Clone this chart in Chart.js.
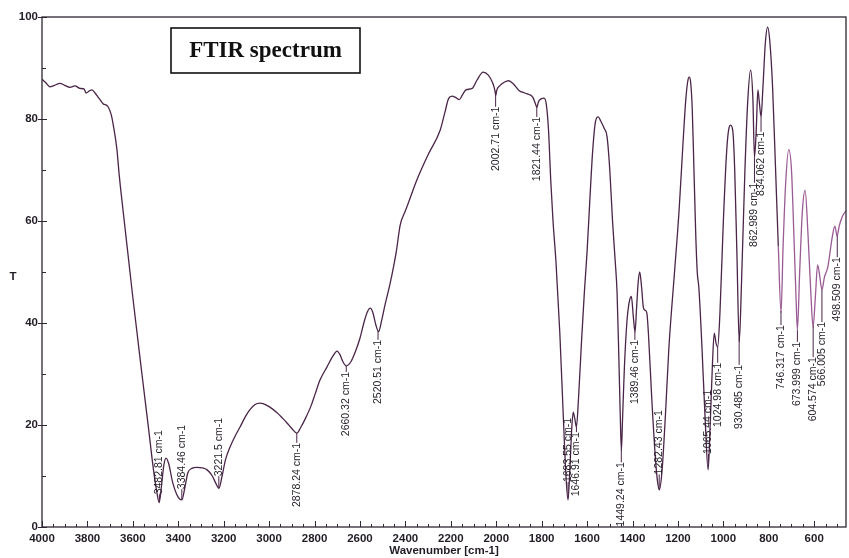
<!DOCTYPE html>
<html>
<head>
<meta charset="utf-8">
<script src="https://cdn.jsdelivr.net/npm/chart.js@4.4.1/dist/chart.umd.min.js"></script>
<style>
  html, body { margin: 0; padding: 0; background: #fff; }
</style>
</head>
<body>
<canvas id="ftir" width="849" height="558"></canvas>
<script>
// espectro (numero de onda en cm-1, transmitancia T)
var numeroOnda = [
  4000, 3985, 3965, 3945, 3921, 3900, 3877, 3855, 3833, 3815, 3806, 3792, 3780, 3765, 3753, 3731, 3709, 3695, 3685, 3670,
  3660, 3648, 3600, 3560, 3530, 3510, 3495, 3484, 3474, 3464, 3454, 3442, 3425, 3400, 3384, 3372, 3358, 3340, 3318, 3295,
  3273, 3250, 3235, 3221, 3208, 3192, 3172, 3150, 3128, 3100, 3062, 3040, 3027, 3000, 2965, 2940, 2921, 2900, 2878, 2860,
  2840, 2815, 2798, 2776, 2745, 2718, 2701, 2688, 2675, 2660, 2640, 2620, 2600, 2580, 2565, 2555, 2543, 2530, 2518, 2505,
  2490, 2467, 2440, 2423, 2400, 2379, 2350, 2300, 2247, 2225, 2210, 2194, 2178, 2163, 2148, 2133, 2106, 2085, 2058, 2035,
  2015, 2006, 2002, 1998, 1985, 1965, 1945, 1925, 1900, 1875, 1855, 1838, 1826, 1821, 1814, 1800, 1790, 1780, 1770, 1760,
  1750, 1737, 1720, 1705, 1693, 1684, 1675, 1668, 1661, 1654, 1647, 1638, 1625, 1612, 1600, 1588, 1575, 1563, 1551, 1540,
  1525, 1512, 1500, 1488, 1476, 1468, 1460, 1454, 1449, 1444, 1436, 1425, 1415, 1405, 1396, 1389, 1382, 1375, 1368, 1360,
  1352, 1345, 1337, 1330, 1315, 1300, 1290, 1282, 1270, 1255, 1240, 1215, 1195, 1178, 1165, 1156, 1150, 1144, 1137, 1130,
  1122, 1115, 1108, 1095, 1080, 1067, 1058, 1048, 1040, 1032, 1025, 1015, 1000, 985, 975, 968, 958, 950, 940, 930,
  920, 905, 892, 880, 870, 863, 855, 848, 841, 834, 826, 815, 805, 795, 783, 770, 758, 746, 737, 725,
  712, 700, 690, 680, 674, 664, 652, 640, 628, 615, 605, 595, 585, 575, 566, 555, 540, 520, 509, 499,
  490, 475, 460
];
var transmitancia = [
  87.8, 87.2, 86.3, 86.6, 87.0, 86.6, 86.2, 86.5, 86.0, 85.9, 85.1, 85.5, 85.7, 85.0, 84.3, 83.0, 82.4, 80.8, 78.5, 74.0,
  69.0, 64.0, 45.0, 30.0, 19.0, 11.5, 7.0, 4.8, 8.0, 12.0, 13.5, 12.4, 8.8, 5.8, 5.3, 7.5, 10.6, 11.5, 11.7, 11.6,
  11.2, 10.0, 8.6, 7.6, 9.8, 13.2, 15.7, 17.8, 19.6, 22.0, 24.0, 24.3, 24.2, 23.6, 22.4, 21.3, 20.4, 19.3, 18.4, 19.6,
  21.3, 23.8, 26.0, 28.8, 31.4, 33.6, 34.5, 33.8, 32.4, 31.6, 32.4, 34.4, 37.0, 40.5, 42.4, 42.9, 42.0, 39.6, 38.3, 40.4,
  43.5, 47.8, 54.0, 59.2, 62.0, 64.5, 68.0, 73.0, 77.8, 81.5, 84.0, 84.5, 84.2, 83.8, 84.8, 85.7, 86.0, 87.6, 89.2, 88.6,
  87.0, 85.6, 84.6, 85.6, 86.5, 87.2, 87.5, 86.9, 85.6, 85.1, 84.8, 84.2, 82.8, 82.3, 83.4, 84.0, 84.1, 83.0, 78.0, 68.0,
  60.0, 52.0, 38.0, 22.0, 10.0, 5.3, 12.0, 19.0, 22.5, 21.2, 19.6, 25.0, 36.0, 46.0, 54.0, 64.0, 74.0, 79.5, 80.4, 79.6,
  78.2, 76.5, 70.0, 60.0, 52.0, 46.0, 33.0, 22.0, 15.0, 21.0, 31.0, 40.0, 44.0, 45.2, 41.0, 38.2, 43.0, 48.0, 50.0, 47.0,
  43.0, 42.5, 42.0, 38.0, 25.0, 14.0, 9.0, 7.3, 11.0, 22.0, 35.0, 50.0, 62.0, 75.0, 84.0, 87.6, 88.2, 87.2, 82.0, 71.0,
  58.0, 50.0, 47.0, 36.0, 21.0, 11.2, 20.0, 32.0, 38.0, 36.0, 35.3, 42.0, 60.0, 74.0, 78.3, 78.8, 77.5, 70.0, 53.0, 36.3,
  48.0, 70.0, 84.0, 89.6, 84.0, 72.5, 78.0, 85.7, 83.0, 80.4, 86.0, 95.0, 98.0, 95.0, 86.0, 70.0, 55.0, 42.0, 55.0, 68.0,
  74.0, 70.0, 58.0, 45.0, 38.6, 50.0, 62.0, 66.0, 58.0, 46.0, 39.2, 45.0, 51.4, 49.0, 46.5, 49.0, 51.0, 57.0, 59.0, 57.0,
  59.0, 61.0, 62.0
];

// picos marcados y altura (T) donde termina cada etiqueta
var picosOnda = [3482.81, 3384.46, 3221.5, 2878.24, 2660.32, 2520.51, 2002.71, 1821.44, 1683.55, 1646.91, 1449.24, 1389.46,
  1282.43, 1065.44, 1024.98, 930.485, 862.989, 834.062, 746.317, 673.999, 604.574, 566.005, 498.509];
var picosTexto = ["3482.81 cm-1", "3384.46 cm-1", "3221.5 cm-1", "2878.24 cm-1", "2660.32 cm-1", "2520.51 cm-1",
  "2002.71 cm-1", "1821.44 cm-1", "1683.55 cm-1", "1646.91 cm-1", "1449.24 cm-1", "1389.46 cm-1", "1282.43 cm-1",
  "1065.44 cm-1", "1024.98 cm-1", "930.485 cm-1", "862.989 cm-1", "834.062 cm-1", "746.317 cm-1", "673.999 cm-1",
  "604.574 cm-1", "566.005 cm-1", "498.509 cm-1"];
var picosTopeT = [19.0, 20.0, 21.4, 16.5, 30.4, 36.7, 82.4, 80.4, 21.4, 18.6, 12.7, 36.7,
  22.9, 26.9, 32.2, 31.8, 67.5, 77.5, 39.6, 36.3, 33.3, 40.2, 52.9];

var ticksX = [4000, 3800, 3600, 3400, 3200, 3000, 2800, 2600, 2400, 2200, 2000, 1800, 1600, 1400, 1200, 1000, 800, 600];
var ticksY = [0, 20, 40, 60, 80, 100];

var colorLinea = "#4a2548";
var colorTexto = "#231c26";

// valor de T en un numero de onda (interpolacion lineal entre puntos leidos)
function valorT(w) {
  for (var i = 0; i < numeroOnda.length - 1; i++) {
    if (w <= numeroOnda[i] && w >= numeroOnda[i + 1]) {
      var f = (numeroOnda[i] - w) / (numeroOnda[i] - numeroOnda[i + 1]);
      return transmitancia[i] + f * (transmitancia[i + 1] - transmitancia[i]);
    }
  }
  return transmitancia[transmitancia.length - 1];
}

var puntos = [];
for (var i = 0; i < numeroOnda.length; i++) {
  puntos.push({ x: numeroOnda[i], y: transmitancia[i] });
}

// marco, marcas de los ejes, etiquetas de picos y recuadro del titulo
var extras = {
  id: "extras",
  afterDatasetsDraw: function (chart) {
    var ctx = chart.ctx;
    var a = chart.chartArea;
    var xs = chart.scales.x;
    var ys = chart.scales.y;
    ctx.save();

    ctx.strokeStyle = "#2e2632";
    ctx.lineWidth = 1.3;
    ctx.strokeRect(a.left, a.top, a.right - a.left, a.bottom - a.top);

    ctx.lineWidth = 1;
    ctx.beginPath();
    for (var w = 4000; w >= 500; w -= 50) {
      var px = Math.round(xs.getPixelForValue(w)) + 0.5;
      var largo = (w % 200 === 0) ? 6 : 3;
      ctx.moveTo(px, a.bottom);
      ctx.lineTo(px, a.bottom - largo);
    }
    for (var t = 0; t <= 100; t += 10) {
      var py = Math.round(ys.getPixelForValue(t)) + 0.5;
      if (t % 20 === 0) {
        ctx.moveTo(a.left - 4, py);
        ctx.lineTo(a.left + 5, py);
      } else {
        ctx.moveTo(a.left, py);
        ctx.lineTo(a.left + 4, py);
      }
    }
    ctx.stroke();

    // etiquetas de picos
    ctx.font = "10.5px 'Liberation Sans', Arial, sans-serif";
    ctx.fillStyle = colorTexto;
    ctx.strokeStyle = colorLinea;
    for (var k = 0; k < picosOnda.length; k++) {
      var x = xs.getPixelForValue(picosOnda[k]);
      var tope = ys.getPixelForValue(picosTopeT[k]);
      var largoTxt = ctx.measureText(picosTexto[k]).width;
      var fondo = tope + largoTxt;
      var valle = ys.getPixelForValue(valorT(picosOnda[k]));
      ctx.beginPath();
      if (valle < tope) {
        ctx.moveTo(x, valle);
        ctx.lineTo(x, tope);
      } else if (valle > fondo) {
        ctx.moveTo(x, fondo);
        ctx.lineTo(x, valle);
      }
      ctx.stroke();
      ctx.save();
      ctx.translate(x, tope);
      ctx.rotate(-Math.PI / 2);
      ctx.textAlign = "right";
      ctx.textBaseline = "middle";
      ctx.fillText(picosTexto[k], 0, 0);
      ctx.restore();
    }

    // recuadro "FTIR spectrum"
    var bx = a.left + 129, by = a.top + 11, bw = 189, bh = 45;
    ctx.strokeStyle = "#111";
    ctx.lineWidth = 1.6;
    ctx.strokeRect(bx, by, bw, bh);
    ctx.fillStyle = "#111";
    ctx.font = "bold 23px 'Liberation Serif', 'Times New Roman', serif";
    ctx.textAlign = "center";
    ctx.textBaseline = "middle";
    ctx.fillText("FTIR spectrum", bx + bw / 2, by + bh / 2 + 1);

    // titulos de ejes
    ctx.fillStyle = colorTexto;
    ctx.font = "bold 11.5px 'Liberation Sans', Arial, sans-serif";
    ctx.fillText("T", 13, ys.getPixelForValue(49));
    ctx.fillText("Wavenumber [cm-1]", (a.left + a.right) / 2, chart.height - 7);

    ctx.restore();
  }
};

var fuenteEjes = { family: "'Liberation Sans', Arial, sans-serif", size: 11.5, weight: "bold" };

new Chart(document.getElementById("ftir"), {
  type: "line",
  data: {
    datasets: [{
      data: puntos,
      borderColor: colorLinea,
      borderWidth: 1.3,
      pointRadius: 0,
      fill: false,
      cubicInterpolationMode: "monotone",
      segment: {
        borderColor: function (c) { return c.p0.parsed.x < 770 ? "#9a5b94" : colorLinea; }
      }
    }]
  },
  options: {
    responsive: false,
    animation: false,
    layout: { padding: { top: 17, right: 3, left: 0, bottom: 0 } },
    plugins: { legend: { display: false }, tooltip: { enabled: false } },
    scales: {
      x: {
        type: "linear",
        reverse: true,
        min: 460,
        max: 4000,
        afterFit: function (s) { s.height = 31; },
        afterBuildTicks: function (s) { s.ticks = ticksX.map(function (v) { return { value: v }; }); },
        grid: { display: false, drawTicks: false },
        border: { display: false },
        ticks: {
          font: fuenteEjes, color: colorTexto, padding: 5, maxRotation: 0, autoSkip: false,
          callback: function (v) { return String(v); }
        }
      },
      y: {
        min: 0,
        max: 100,
        afterFit: function (s) { s.width = 42; },
        afterBuildTicks: function (s) { s.ticks = ticksY.map(function (v) { return { value: v }; }); },
        grid: { display: false, drawTicks: false },
        border: { display: false },
        ticks: {
          font: fuenteEjes, color: colorTexto, padding: 4,
          callback: function (v) { return String(v); }
        }
      }
    }
  },
  plugins: [extras]
});
</script>
</body>
</html>
